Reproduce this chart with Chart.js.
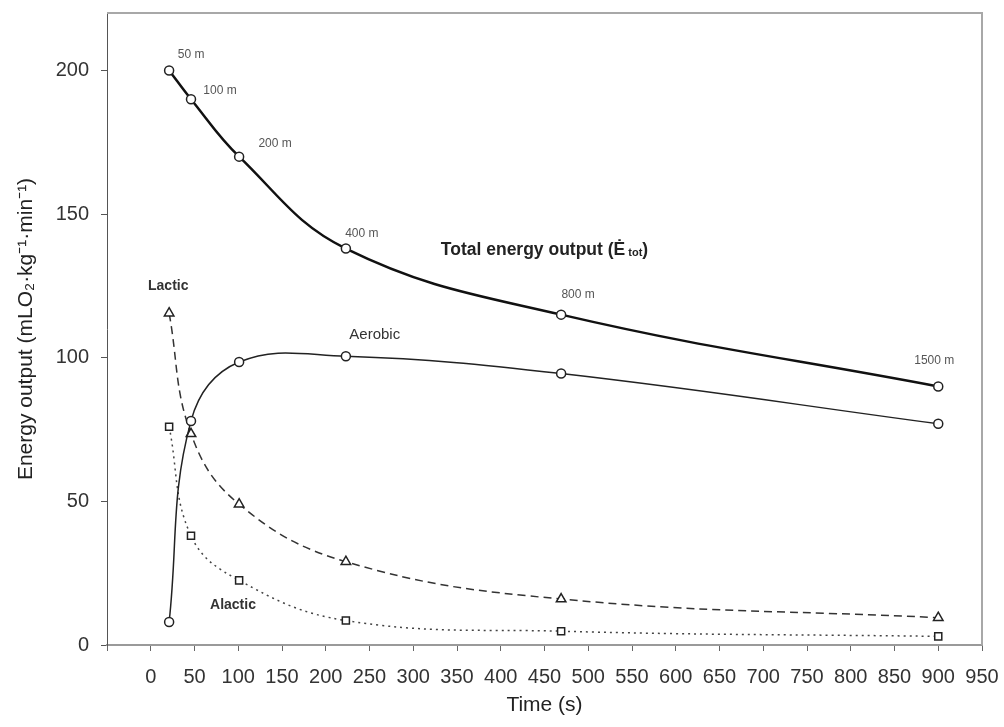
<!DOCTYPE html>
<html>
<head>
  <title>Energy output vs time</title>
  <script src="https://cdn.jsdelivr.net/npm/chart.js"></script>
  <style>
    body { margin: 0; background: #fff; }
    #wrap { width: 1004px; height: 727px; }
  </style>
</head>
<body>
  <div id="wrap"><canvas id="chart" width="1004" height="727"></canvas></div>

  <script>
    // race times (s) for 50, 100, 200, 400, 800, 1500 m
    const times = [21, 46, 101, 223, 469, 900];
    const distances = ['50 m', '100 m', '200 m', '400 m', '800 m', '1500 m'];
    const totalOut = [200, 190, 170, 138, 115, 90];
    const aerobicOut = [8, 78, 98.5, 100.5, 94.5, 77];
    const lacticOut = [115.5, 73.5, 49, 29, 16, 9.5];
    const alacticOut = [76, 38, 22.5, 8.5, 4.8, 3];

    const FONT = '"Liberation Sans", Arial, sans-serif';

    function pts(ys) {
      return times.map((t, i) => ({ x: t, y: ys[i] }));
    }

    // pixel nudges for the distance tags next to the total curve
    const tagOffsets = [[22, -16], [29, -8], [36, -13], [16, -15], [17, -20], [-4, -26]];

    const annotations = {
      id: 'annotations',
      afterDatasetsDraw(chart) {
        const { ctx, chartArea, scales: { x, y } } = chart;
        ctx.save();

        // frame on top and right
        ctx.strokeStyle = '#a8a8a8';
        ctx.lineWidth = 2;
        ctx.beginPath();
        ctx.moveTo(chartArea.left, chartArea.top);
        ctx.lineTo(chartArea.right, chartArea.top);
        ctx.lineTo(chartArea.right, chartArea.bottom);
        ctx.stroke();

        // distance tags
        ctx.fillStyle = '#555';
        ctx.font = '12px ' + FONT;
        ctx.textAlign = 'center';
        ctx.textBaseline = 'middle';
        distances.forEach((d, i) => {
          const px = x.getPixelForValue(times[i]) + tagOffsets[i][0];
          const py = y.getPixelForValue(totalOut[i]) + tagOffsets[i][1];
          ctx.fillText(d, px, py);
        });

        // series names
        ctx.fillStyle = '#333';
        ctx.font = 'bold 14px ' + FONT;
        ctx.fillText('Lactic', x.getPixelForValue(20), y.getPixelForValue(125));
        ctx.fillText('Alactic', x.getPixelForValue(94), y.getPixelForValue(14));
        ctx.font = '15px ' + FONT;
        ctx.fillText('Aerobic', x.getPixelForValue(256), y.getPixelForValue(108));

        // total label with subscript
        const main = 'Total energy output (\u0116';
        const sub = ' tot';
        const close = ')';
        const bigF = 'bold 17.5px ' + FONT;
        const smallF = 'bold 11px ' + FONT;
        ctx.font = bigF;
        const w1 = ctx.measureText(main).width;
        const w3 = ctx.measureText(close).width;
        ctx.font = smallF;
        const w2 = ctx.measureText(sub).width;
        const cx = x.getPixelForValue(450);
        const cy = y.getPixelForValue(137.6);
        let sx = cx - (w1 + w2 + w3) / 2;
        ctx.textAlign = 'left';
        ctx.fillStyle = '#222';
        ctx.font = bigF;
        ctx.fillText(main, sx, cy);
        ctx.font = smallF;
        ctx.fillText(sub, sx + w1, cy + 3);
        ctx.font = bigF;
        ctx.fillText(close, sx + w1 + w2, cy);

        ctx.restore();
      }
    };

    const common = {
      pointBackgroundColor: '#fff',
      pointBorderColor: '#222',
      pointBorderWidth: 1.5,
      tension: 0.4,
      showLine: true,
      fill: false
    };

    new Chart(document.getElementById('chart'), {
      type: 'scatter',
      data: {
        datasets: [
          { ...common, label: 'Total', data: pts(totalOut), borderColor: '#111', borderWidth: 2.5,
            pointStyle: 'circle', pointRadius: 4.5 },
          { ...common, label: 'Aerobic', data: pts(aerobicOut), borderColor: '#222', borderWidth: 1.5,
            pointStyle: 'circle', pointRadius: 4.5 },
          { ...common, label: 'Lactic', data: pts(lacticOut), borderColor: '#333', borderWidth: 1.5,
            borderDash: [8, 5], pointStyle: 'triangle', pointRadius: 5.5 },
          { ...common, label: 'Alactic', data: pts(alacticOut), borderColor: '#444', borderWidth: 1.5,
            borderDash: [2, 4], pointStyle: 'rect', pointRadius: 5 }
        ]
      },
      options: {
        responsive: false,
        animation: false,
        devicePixelRatio: 1,
        layout: { padding: { top: 13, right: 22, left: 0, bottom: 0 } },
        plugins: {
          legend: { display: false },
          tooltip: { enabled: false }
        },
        scales: {
          x: {
            type: 'linear',
            min: -50,
            max: 950,
            afterFit(scale) {
              scale.height = 82;
              scale.paddingLeft = 0;
              scale.paddingRight = 0;
            },
            border: { color: '#9a9a9a', width: 2 },
            grid: { drawOnChartArea: false, drawTicks: true, tickLength: 6, color: '#666' },
            ticks: {
              stepSize: 50,
              padding: 14,
              color: '#333',
              font: { family: FONT, size: 20 },
              maxRotation: 0,
              autoSkip: false,
              callback: v => (v < 0 ? '' : v)
            },
            title: {
              display: true,
              text: 'Time (s)',
              color: '#222',
              font: { family: FONT, size: 21 },
              padding: { top: 0, bottom: 9 }
            }
          },
          y: {
            min: 0,
            max: 220,
            afterFit(scale) {
              scale.width = 107;
              scale.paddingTop = 0;
              scale.paddingBottom = 0;
            },
            border: { color: '#555', width: 1 },
            grid: { drawOnChartArea: false, drawTicks: true, tickLength: 6, color: '#555' },
            ticks: {
              stepSize: 50,
              includeBounds: false,
              padding: 12,
              color: '#333',
              font: { family: FONT, size: 20 }
            },
            title: {
              display: true,
              text: 'Energy output (mLO\u2082\u00b7kg\u207b\u00b9\u00b7min\u207b\u00b9)',
              color: '#222',
              font: { family: FONT, size: 21 },
              padding: { top: 14, bottom: 0 }
            }
          }
        }
      },
      plugins: [annotations]
    });
  </script>
</body>
</html>
